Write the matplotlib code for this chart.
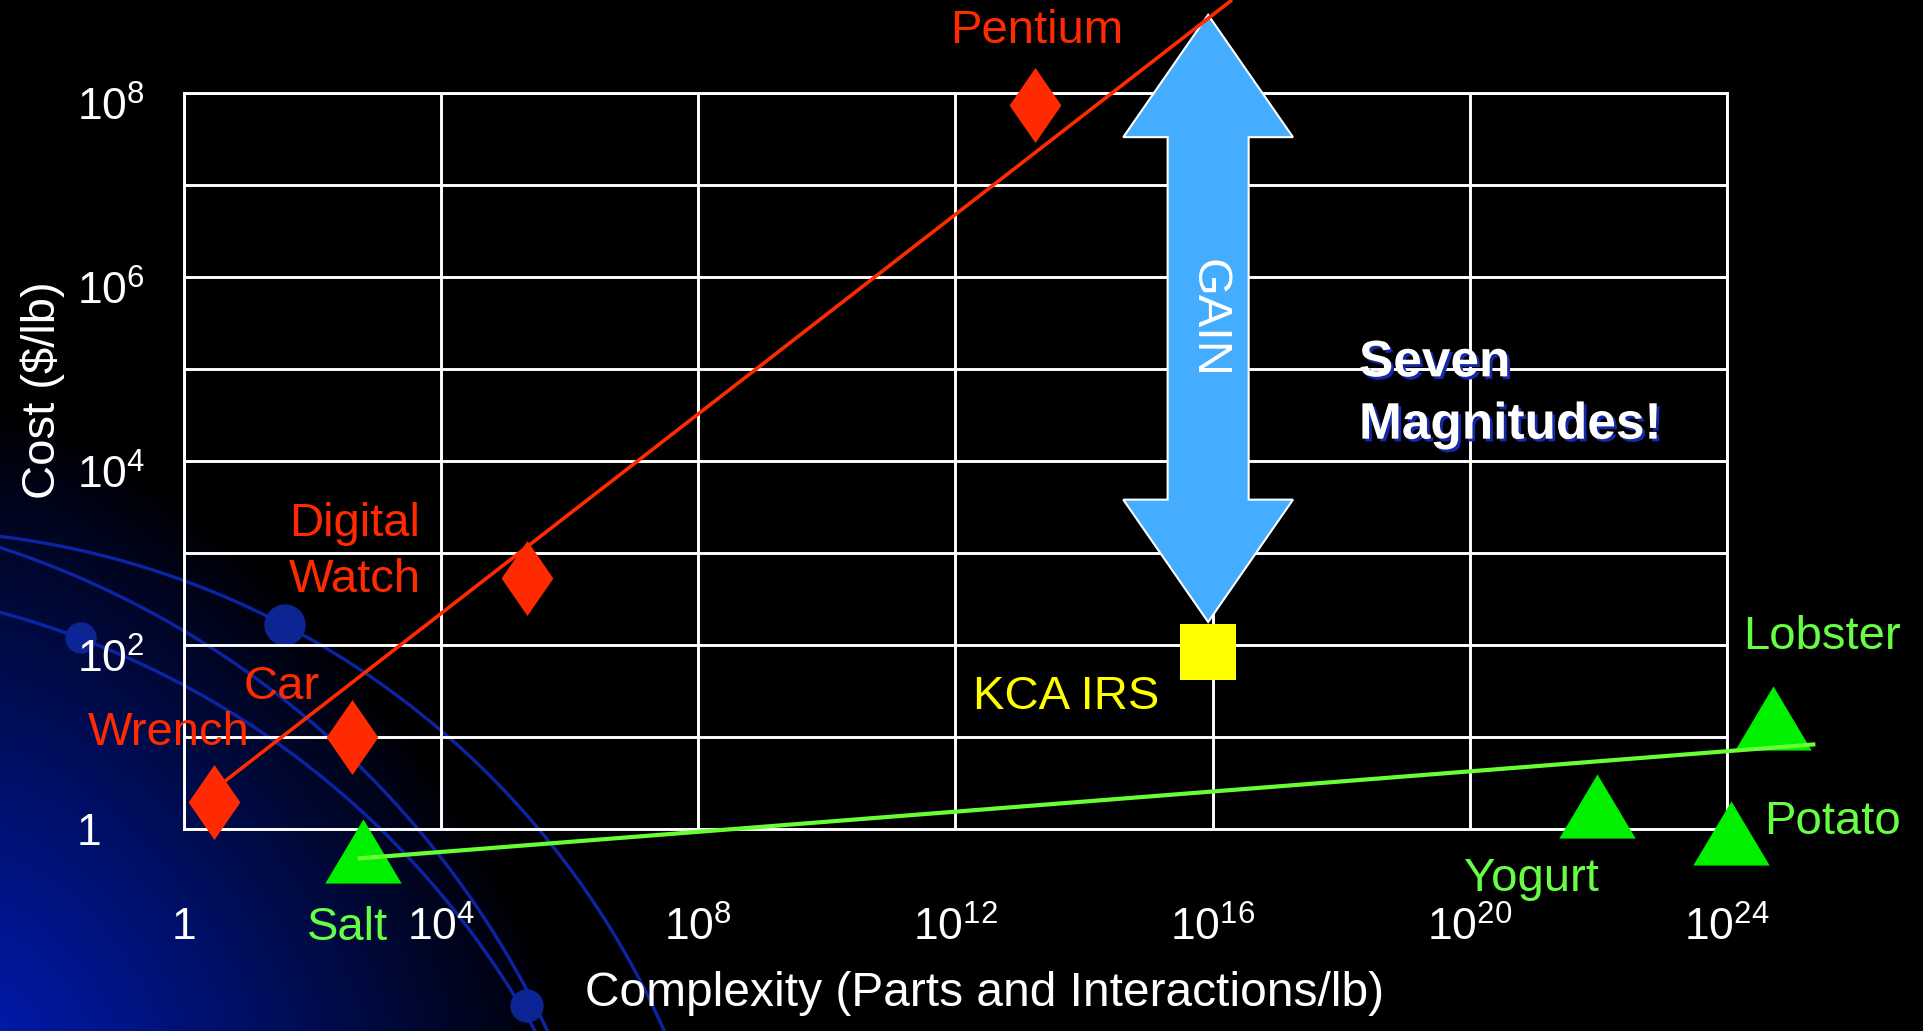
import numpy as np
import matplotlib
matplotlib.use('Agg')
import matplotlib.pyplot as plt
from matplotlib.patches import Polygon, Circle
from matplotlib.ticker import NullLocator
from matplotlib.transforms import ScaledTranslation
import matplotlib.patheffects as pe

plt.rcParams['font.family'] = ['Liberation Sans', 'DejaVu Sans']
plt.rcParams['mathtext.fontset'] = 'custom'
plt.rcParams['mathtext.rm'] = 'Liberation Sans'
plt.rcParams['mathtext.it'] = 'Liberation Sans:italic'
plt.rcParams['mathtext.bf'] = 'Liberation Sans:bold'

# Manufactured products: complexity (parts and interactions / lb) vs cost ($/lb)
made_names = ['Wrench', 'Car', 'Digital\nWatch', 'Pentium']
made_complexity = [2.9, 4.1e2, 2.2e5, 1.7e13]
made_cost = [1.95, 10, 5.4e2, 7.4e7]

# Grown products
grown_names = ['Salt', 'Yogurt', 'Potato', 'Lobster']
grown_complexity = [6.1e2, 9.5e21, 1.15e24, 5.2e24]
grown_cost = [0.57, 1.8, 0.9, 16]

# Trend lines
made_trend_x = [4.3, 1.9e16]
made_trend_y = [3.3, 1.0e9]
grown_trend_x = [5.4e2, 2.2e25]
grown_trend_y = [0.48, 8.3]

# KCA IRS and the gain arrow above it
kca_complexity = 8.5e15
kca_cost = 83
gain_bottom = 10 ** 2.25
gain_top = 10 ** 8.85

x_ticks = [10.0 ** k for k in range(0, 25, 4)]
x_labels = ['1', '$10^{4}$', '$10^{8}$', '$10^{12}$', '$10^{16}$', '$10^{20}$', '$10^{24}$']
y_ticks = [10.0 ** k for k in range(0, 9)]
y_labels = ['1', '', '$10^{2}$', '', '$10^{4}$', '', '$10^{6}$', '', '$10^{8}$']

# label offsets from each point, in pixels
made_offsets = [(-45, 69), (-70, 50), (-173, 26), (2, 74)]
grown_offsets = [(-16, -77), (-66, -73), (102, 11), (49, 81)]

RED = '#FF2A00'
GREEN = '#00F000'
GREEN_TXT = '#66FF44'
YELLOW = '#FFFF00'
SKY = '#45ADFF'

W, H = 1923, 1031
fig = plt.figure(figsize=(W / 100, H / 100), dpi=100, facecolor='black')

# background: blue glow in the lower left plus curved swooshes
bg = fig.add_axes([0, 0, 1, 1], zorder=0)
bg.set_xlim(0, W)
bg.set_ylim(H, 0)
bg.axis('off')
gx, gy = np.meshgrid(np.linspace(0, W, 481), np.linspace(0, H, 258))
t = ((gx / 560) ** 1.4 + ((H - gy) / 620) ** 1.4) ** (1 / 1.4)
glow = np.clip(1 - t, 0, 1) ** 0.9
rgb = np.dstack([glow * 0.0, glow * 0.1, glow * 0.66])
bg.imshow(rgb, extent=(0, W, H, 0), aspect='auto', interpolation='bilinear')

theta = np.linspace(0, np.pi / 2, 400)
for cx, cy, r in [(-103, 1368, 838), (-286, 1423, 921), (-228, 1455, 873)]:
    bg.plot(cx + r * np.cos(theta), cy - r * np.sin(theta), color='#0c24a4', lw=2.4)
for cx, cy, r in [(81, 638, 15), (285, 625, 20), (527, 1006, 16)]:
    bg.add_patch(Circle((cx, cy), r, color='#0c2590'))

# main plot
ax = fig.add_axes([184 / W, 1 - 829 / H, 1543 / W, 736 / H], zorder=1)
ax.set_facecolor('none')
ax.set_xscale('log')
ax.set_yscale('log')
ax.set_xlim(1, 1e24)
ax.set_ylim(1, 1e8)
ax.set_xticks(x_ticks)
ax.set_xticklabels(x_labels)
ax.set_yticks(y_ticks)
ax.set_yticklabels(y_labels)
ax.xaxis.set_minor_locator(NullLocator())
ax.yaxis.set_minor_locator(NullLocator())
ax.tick_params(axis='both', length=0, labelsize=32, colors='white')
ax.tick_params(axis='x', pad=56)
ax.tick_params(axis='y', pad=77)
# y labels sit flush left; the powers drop a little below their grid line
drop = ScaledTranslation(0, -0.11, fig.dpi_scale_trans)
for lbl in ax.get_yticklabels():
    lbl.set_horizontalalignment('left')
    if '^' in lbl.get_text():
        lbl.set_transform(lbl.get_transform() + drop)
ax.grid(True, color='white', linewidth=2.1)
for s in ax.spines.values():
    s.set_color('white')
    s.set_linewidth(2.1)

ax.set_xlabel('Complexity (Parts and Interactions/lb)', color='white', fontsize=34.5, va='center')
ax.xaxis.set_label_coords(0.519, -0.223)
ax.set_ylabel('Cost ($/lb)', color='white', fontsize=34, va='center')
ax.yaxis.set_label_coords(-0.0914, 0.596)

diamond = [(0, 1), (0.69, 0), (0, -1), (-0.69, 0), (0, 1)]
triangle = [(-0.5, -0.42), (0.5, -0.42), (0, 0.42), (-0.5, -0.42)]

# gain arrow, drawn in log-decade units around the KCA point
xc = np.log10(kca_complexity)
lo, hi = np.log10(gain_bottom), np.log10(gain_top)
shaft, head, head_len = 0.63, 1.32, 1.33
arrow_log = [(xc, hi), (xc + head, hi - head_len), (xc + shaft, hi - head_len),
             (xc + shaft, lo + head_len), (xc + head, lo + head_len), (xc, lo),
             (xc - head, lo + head_len), (xc - shaft, lo + head_len),
             (xc - shaft, hi - head_len), (xc - head, hi - head_len)]
arrow = Polygon([(10 ** a, 10 ** b) for a, b in arrow_log], closed=True,
                facecolor=SKY, edgecolor='white', linewidth=1.5, clip_on=False, zorder=3)
ax.add_patch(arrow)
ax.text(kca_complexity, 10 ** 5.55, 'GAIN', rotation=270, color='white', fontsize=35,
        ha='center', va='center', zorder=4)

ax.plot(made_trend_x, made_trend_y, color=RED, lw=2.6, clip_on=False, zorder=4)

ax.plot(made_complexity, made_cost, linestyle='none', marker=diamond, markersize=54,
        color=RED, markeredgewidth=0, clip_on=False, zorder=5)
ax.plot(grown_complexity, grown_cost, linestyle='none', marker=triangle, markersize=55,
        color=GREEN, markeredgewidth=0, clip_on=False, zorder=5)
ax.plot([kca_complexity], [kca_cost], linestyle='none', marker='s', markersize=40,
        color=YELLOW, markeredgewidth=0, clip_on=False, zorder=5)

ax.plot(grown_trend_x, grown_trend_y, color='#66FF33', lw=3, clip_on=False, zorder=6)

for name, x, y, off in zip(made_names, made_complexity, made_cost, made_offsets):
    ax.annotate(name, (x, y), xytext=off, textcoords='offset pixels', color=RED,
                fontsize=34, ha='center', va='center', multialignment='center',
                linespacing=1.35, annotation_clip=False, zorder=7)
for name, x, y, off in zip(grown_names, grown_complexity, grown_cost, grown_offsets):
    ax.annotate(name, (x, y), xytext=off, textcoords='offset pixels', color=GREEN_TXT,
                fontsize=34, ha='center', va='center', annotation_clip=False, zorder=7)
ax.annotate('KCA IRS', (kca_complexity, kca_cost), xytext=(-142, -45),
            textcoords='offset pixels', color=YELLOW, fontsize=34, ha='center',
            va='center', annotation_clip=False, zorder=7)

fig.text(1359 / W, 1 - 394 / H, 'Seven\nMagnitudes!', color='white', fontsize=37,
         fontweight='bold', ha='left', va='center', linespacing=1.35, zorder=7,
         path_effects=[pe.withSimplePatchShadow(offset=(2, -2), shadow_rgbFace='#1428a8', alpha=1.0)])

fig.savefig('out.png', dpi=100, facecolor='black')
